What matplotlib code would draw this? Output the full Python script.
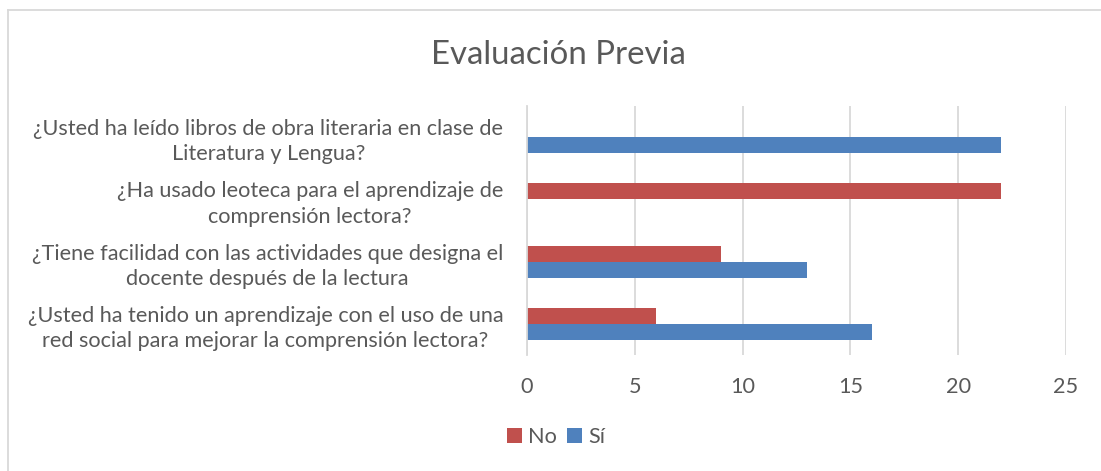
import matplotlib
matplotlib.use("Agg")
import matplotlib.pyplot as plt
import numpy as np
from matplotlib.lines import Line2D

categories = [
    "¿Usted ha leído libros de obra literaria en clase de\nLiteratura y Lengua?",
    "¿Ha usado leoteca para el aprendizaje de\ncomprensión lectora?",
    "¿Tiene facilidad con las actividades que designa el\ndocente después de la lectura",
    "¿Usted ha tenido un aprendizaje con el uso de una\nred social para mejorar la comprensión lectora?",
]
no_values = [0, 22, 9, 6]
si_values = [22, 0, 13, 16]
x_ticks = [0, 5, 10, 15, 20, 25]
title = "Evaluación Previa"

RED = "#C0504D"
BLUE = "#4F81BD"
TXT = "#595959"
GRID = "#D9D9D9"

plt.rcParams['font.family'] = ['Lato', 'DejaVu Sans']

W, H = 1101, 471
fig = plt.figure(figsize=(W / 100, H / 100), dpi=100)
ax = fig.add_axes([527 / W, 1 - 355 / H, (1066 - 527) / W, (355 - 106) / H])

y = np.arange(len(categories))
h = 16 / 62.3
ax.barh(y - h / 2, no_values, height=h, color=RED, label="No")
ax.barh(y + h / 2, si_values, height=h, color=BLUE, label="Sí")

ax.set_ylim(len(categories) - 0.5, -0.5)
ax.set_xlim(0, 25)
ax.set_xticks(x_ticks)
ax.set_yticks(y)
ax.set_yticklabels(categories, multialignment='center', linespacing=1.33)
ax.xaxis.grid(True, color=GRID, linewidth=1.3)
ax.set_axisbelow(True)
for s in ["top", "right", "bottom"]:
    ax.spines[s].set_visible(False)
ax.spines["left"].set_color(GRID)
ax.spines["left"].set_linewidth(1.3)
ax.tick_params(axis='y', length=0, pad=17, labelsize=15.6, labelcolor=TXT)
ax.tick_params(axis='x', length=0, pad=16, labelsize=15.6, labelcolor=TXT)

fig.text(558 / W, 1 - 55 / H, title, ha='center', va='center', fontsize=23.8, color=TXT)

handles, labels = ax.get_legend_handles_labels()
leg = fig.legend(handles, labels, loc='center', bbox_to_anchor=(556 / W, 1 - 437 / H),
                 ncol=2, frameon=False, fontsize=15.6, handlelength=0.7, handleheight=0.7,
                 handletextpad=0.3, columnspacing=0.45, labelcolor=TXT)

# outer border (left and top only visible)
fig.add_artist(Line2D([8 / W, 8 / W], [0, 1 - 9.5 / H], transform=fig.transFigure, color=GRID, lw=1.3))
fig.add_artist(Line2D([8 / W, 1], [1 - 9.5 / H, 1 - 9.5 / H], transform=fig.transFigure, color=GRID, lw=1.3))

fig.savefig("out.png", dpi=100)
